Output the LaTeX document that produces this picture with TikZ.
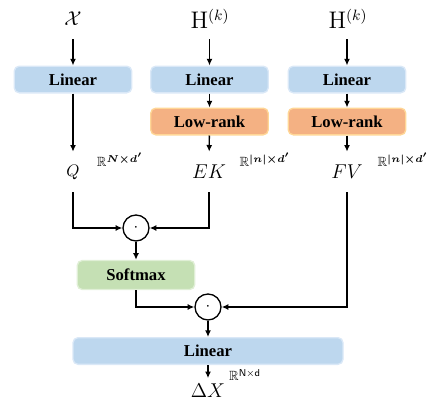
\documentclass[tikz,border=0pt]{standalone}
\usepackage{amsmath}
\usepackage{amssymb}
\usepackage[no-math]{fontspec}
\setmainfont{Liberation Serif}
\usetikzlibrary{arrows.meta}
\definecolor{softblue}{RGB}{189,215,238}
\definecolor{softblueline}{RGB}{218,232,247}
\definecolor{softorange}{RGB}{244,177,131}
\definecolor{softorangeline}{RGB}{255,214,150}
\definecolor{softgreen}{RGB}{197,224,180}
\definecolor{softgreenline}{RGB}{224,239,214}

\tikzset{
    block/.style={
        rounded corners=3pt,
        fill=#1,
        draw=#1line,
        line width=0.8pt,
        minimum width=70.5pt,
        minimum height=16pt,
        inner sep=0pt,
        font=\bfseries
    },
    var/.style={inner sep=0pt, minimum height=24pt, font=\large},
    rlabel/.style={inner sep=0pt, font=\footnotesize},
    dotop/.style={circle, draw, line width=0.8pt, minimum size=15.6pt, inner sep=0pt},
    flow/.style={line width=0.8pt, -{Latex[length=4pt,width=3.6pt]}}
}

\begin{document}
\begin{tikzpicture}[x=0.6pt,y=-0.6pt]
\useasboundingbox (0,0) rectangle (429,407);

\node[var] (xin) at (73,19) {$\mathcal{X}$};
\node[var, font=\fontsize{13.5}{16}\selectfont] (hk) at (210,19) {$\mathrm{H}^{(k)}$};
\node[var, font=\fontsize{13.5}{16}\selectfont] (hv) at (348,19) {$\mathrm{H}^{(k)}$};

\node[block=softblue] (linq) at (73,79.5) {Linear};
\node[block=softblue] (link) at (209.5,79.5) {Linear};
\node[block=softblue] (linv) at (347,79.5) {Linear};

\node[block=softorange] (lowk) at (209.5,121.5) {Low-rank};
\node[block=softorange] (lowv) at (347,121.5) {Low-rank};

\node[var, font=\normalsize] (q) at (73,172) {$Q$};
\node[var] (ek) at (209,172) {$EK$};
\node[var] (fv) at (347,172) {$FV$};

\node[rlabel] (rq) at (120,160) {$\mathbb{R}^{\boldsymbol{N\times d'}}$};
\node[rlabel] (rk) at (265,160) {$\mathbb{R}^{\boldsymbol{|n|\times d'}}$};
\node[rlabel] (rv) at (403,160) {$\mathbb{R}^{\boldsymbol{|n|\times d'}}$};

\node[dotop] (dotqk) at (136,228) {$\cdot$};
\node[block=softgreen, minimum height=17.4pt] (soft) at (136,275) {Softmax};
\node[dotop] (dotv) at (208,307) {$\cdot$};

\node[block=softblue, minimum width=162pt] (linout) at (208,351) {Linear};
\node[var, minimum height=15pt] (dx) at (208,391) {$\Delta X$};
\node[rlabel] (rx) at (245,375) {$\mathbb{R}^{\text{\sffamily N×d}}$};

\draw[flow] (xin) -- (linq);
\draw[flow] (hk.south -| link) -- (link);
\draw[flow] (hv.south -| linv) -- (linv);
\draw[flow] (link) -- (lowk);
\draw[flow] (linv) -- (lowv);
\draw[flow] (linq) -- (q);
\draw[flow] (lowk) -- (ek);
\draw[flow] (lowv) -- (fv);
\draw[flow] (q) |- (dotqk);
\draw[flow] (ek) |- (dotqk);
\draw[flow] (dotqk) -- (soft);
\draw[flow] (soft) |- (dotv);
\draw[flow] (fv) |- (dotv);
\draw[flow] (dotv) -- (linout);
\draw[flow] (linout) -- (dx);
\end{tikzpicture}
\end{document}
